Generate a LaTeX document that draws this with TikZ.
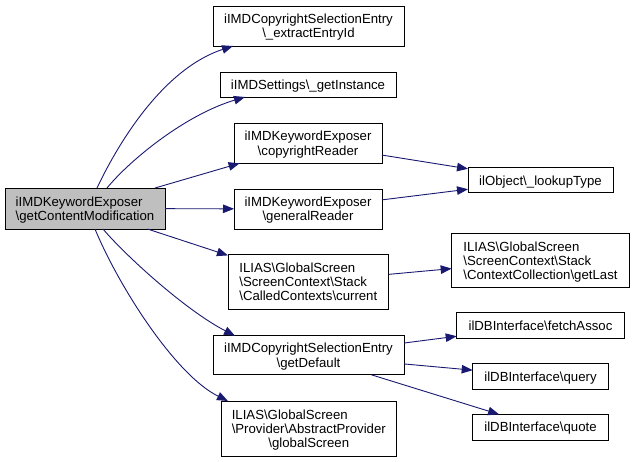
\documentclass[tikz,border=0pt]{standalone}
\usepackage{fontspec}
\setmainfont{Liberation Sans}
\usetikzlibrary{arrows.meta,calc}
\definecolor{edgeblue}{HTML}{191970}
\definecolor{mainfill}{HTML}{BFBFBF}
\tikzset{
  fn/.style={draw=black, line width=0.9pt, fill=white, inner sep=0pt, outer sep=0pt,
    font=\fontsize{13.2}{14.2}\selectfont, text depth=0pt},
  call/.style={draw=edgeblue, line width=0.9pt, -{Triangle[length=11pt,width=8.5pt]}},
}
\newcommand{\bs}{\textbackslash}
\begin{document}
\begin{tikzpicture}[x=1pt,y=-1pt]
\useasboundingbox (0,0) rectangle (635,462);
% nodes
\node[fn, fill=mainfill, minimum width=160pt, minimum height=41pt, align=left] (main) at (85,208.5) {iIMDKeywordExposer\\\bs getContentModification};
\node[fn, minimum width=191pt, minimum height=40pt, align=center] (ext) at (308.5,26) {iIMDCopyrightSelectionEntry\\\bs\_extractEntryId};
\node[fn, minimum width=176pt, minimum height=25pt] (inst) at (308,84.5) {iIMDSettings\bs\_getInstance};
\node[fn, minimum width=148pt, minimum height=40pt, align=center] (copy) at (308,143.3) {iIMDKeywordExposer\\\bs copyrightReader};
\node[fn, minimum width=148pt, minimum height=40pt, align=center] (gen) at (308,209) {iIMDKeywordExposer\\\bs generalReader};
\node[fn, minimum width=160.7pt, minimum height=55pt, align=left] (called) at (308.3,281.7) {ILIAS\bs GlobalScreen\\\bs ScreenContext\bs Stack\\\bs CalledContexts\bs current};
\node[fn, minimum width=191pt, minimum height=39pt, align=center] (getdef) at (308.5,355.3) {iIMDCopyrightSelectionEntry\\\bs getDefault};
\node[fn, minimum width=175.7pt, minimum height=55pt, align=center] (glob) at (308.8,428.5) {\begin{tabular}{@{}l@{}}ILIAS\bs GlobalScreen\\\bs Provider\bs AbstractProvider\end{tabular}\\[-1.5pt]\bs globalScreen};
\node[fn, minimum width=145pt, minimum height=25pt] (look) at (540.5,180.3) {ilObject\bs\_lookupType};
\node[fn, minimum width=177.6pt, minimum height=54.4pt, align=left] (last) at (540.5,260.5) {ILIAS\bs GlobalScreen\\\bs ScreenContext\bs Stack\\\bs ContextCollection\bs getLast};
\node[fn, minimum width=167.6pt, minimum height=25.6pt] (fetch) at (540.5,325.5) {ilDBInterface\bs fetchAssoc};
\node[fn, minimum width=135.6pt, minimum height=26pt] (query) at (540.5,376.3) {ilDBInterface\bs query};
\node[fn, minimum width=135.6pt, minimum height=25.7pt] (quote) at (540.5,427.2) {ilDBInterface\bs quote};
% curved edges
\draw[call] ($(main.north west)+(92,0)$) .. controls (115,150) and (160,70) .. ($(ext.south west)+(20,0)$);
\draw[call] ($(main.north west)+(102,0)$) .. controls (130,160) and (185,115) .. ($(inst.south west)+(25,0)$);
\draw[call] ($(main.south west)+(98,0)$) .. controls (125,255) and (185,310) .. ($(getdef.north west)+(22,0)$);
\draw[call] ($(main.south west)+(90,0)$) .. controls (118,285) and (175,375) .. ($(glob.north west)+(7,0)$);
% straight edges
\draw[call] (main) -- (copy);
\draw[call] (main) -- (gen);
\draw[call] (main) -- (called);
\draw[call] (copy) -- (look);
\draw[call] (gen) -- (look);
\draw[call] (called) -- (last);
\draw[call] (getdef) -- (fetch);
\draw[call] (getdef) -- (query);
\draw[call] (getdef) -- (quote);
\end{tikzpicture}
\end{document}
